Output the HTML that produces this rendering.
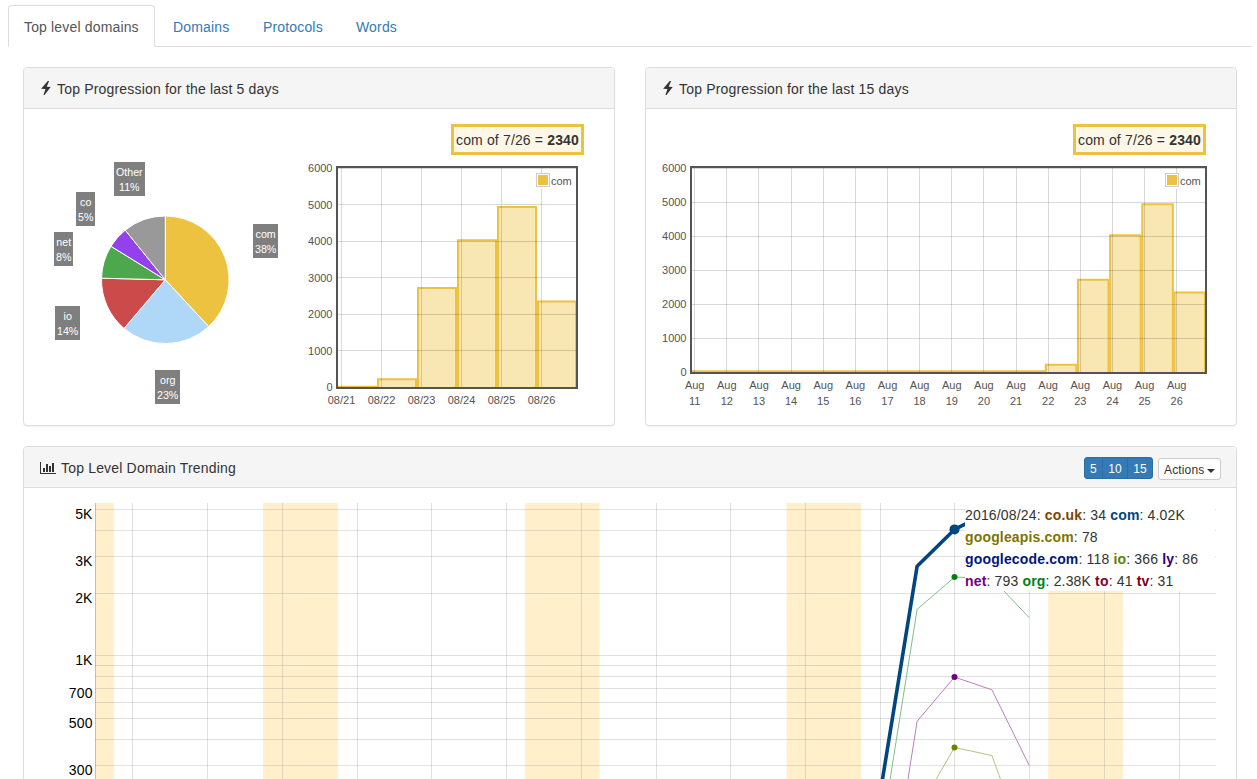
<!DOCTYPE html><html><head><meta charset="utf-8"><title>Top level domains</title><style>
*{box-sizing:border-box}
html,body{margin:0;padding:0}
body{width:1257px;height:779px;overflow:hidden;position:relative;background:#fff;
 font-family:"Liberation Sans",Arial,sans-serif;font-size:14px;line-height:1.42857143;color:#333}
.tabs{position:absolute;left:8px;top:5px;width:1244px;height:42px;margin:0;padding:0;list-style:none;border-bottom:1px solid #ddd}
.tabs li{float:left;margin-bottom:-1px;height:42px}
.tabs a{display:block;height:42px;padding:11px 0 0 15px;line-height:20px;border:1px solid transparent;border-radius:4px 4px 0 0;margin-right:2px;color:#337ab7;text-decoration:none;letter-spacing:.16px;white-space:nowrap}
.tabs li.active a{color:#555;background:#fff;border-color:#ddd #ddd transparent}
.panel{position:absolute;background:#fff;border:1px solid #ddd;border-radius:4px;box-shadow:0 1px 1px rgba(0,0,0,.05)}
.ph{height:41px;background:#f5f5f5;border-bottom:1px solid #ddd;border-radius:3px 3px 0 0;padding:10px 15px;position:relative}
.ph .t{position:absolute;top:11px;letter-spacing:.18px;line-height:20px;font-size:14px;color:#333;white-space:nowrap}
.ico{position:absolute}
.lbl{position:absolute;background:rgba(0,0,0,.5);color:#fff;font-size:8pt;line-height:15.24px;padding:3px 2px 1px;text-align:center;white-space:nowrap}
.cbox{position:absolute;border:3px solid #edc240;background:#fdf7e7;font-size:14px;line-height:20px;padding:3px 0 2px 2px;letter-spacing:.15px;white-space:nowrap;color:#333}
.btng{position:absolute;top:457px;left:1084px;height:22px;display:flex}
.btng span{display:block;height:22px;padding:2px 0 0;text-align:center;font-size:12px;line-height:18px;color:#fff;background:#337ab7;border:1px solid #2e6da4;letter-spacing:.2px}
.btng span+span{margin-left:-1px}
.btng span:first-child{border-radius:3px 0 0 3px}
.btng span:last-child{border-radius:0 3px 3px 0}
.act{position:absolute;left:1158px;top:458px;width:63px;height:22px;padding:2px 0 0 5px;letter-spacing:.15px;font-size:12px;line-height:18px;color:#333;background:#fff;border:1px solid #ccc;border-radius:3px;white-space:nowrap}
.caret{display:inline-block;width:0;height:0;margin-left:-1px;vertical-align:middle;border-top:4px solid #333;border-right:4px solid transparent;border-left:4px solid transparent}
svg{position:absolute;left:0;top:0;overflow:visible}
svg text{font-family:"Liberation Sans",Arial,sans-serif}
</style></head><body>
<ul class="tabs"><li class="active"><a style="width:147px">Top level domains</a></li><li><a style="width:88px">Domains</a></li><li><a style="width:91px">Protocols</a></li><li><a style="width:73px">Words</a></li></ul>
<div class="panel" style="left:23px;top:67px;width:592px;height:359px"><div class="ph"><span class="t" style="left:33px">Top Progression for the last 5 days</span></div></div>
<div class="panel" style="left:645px;top:67px;width:592px;height:359px"><div class="ph"><span class="t" style="left:33px">Top Progression for the last 15 days</span></div></div>
<div class="panel" style="left:23px;top:446px;width:1214px;height:400px"><div class="ph"><span class="t" style="left:37px">Top Level Domain Trending</span></div></div>
<svg class="ico" width="14" height="16" viewBox="0 0 14 16" style="left:40px;top:81px;position:absolute"><path d="M7.8 0 L9.1 0.1 L6.7 5.85 L10.7 6 L4.5 13.9 L3.4 14 L5.5 8.05 L1.1 7.8 Z" fill="#333"/></svg>
<svg class="ico" width="14" height="16" viewBox="0 0 14 16" style="left:662px;top:81px;position:absolute"><path d="M7.8 0 L9.1 0.1 L6.7 5.85 L10.7 6 L4.5 13.9 L3.4 14 L5.5 8.05 L1.1 7.8 Z" fill="#333"/></svg>
<svg width="18" height="14" style="left:39px;top:461px"><rect x="1" y="1" width="1" height="12" fill="#333"/><rect x="1" y="12" width="16" height="1" fill="#333"/><rect x="4" y="7" width="2" height="4" fill="#333"/><rect x="7" y="3" width="2" height="8" fill="#333"/><rect x="10" y="5" width="2" height="6" fill="#333"/><rect x="13" y="2" width="2" height="9" fill="#333"/></svg>
<div class="btng"><span style="width:19px">5</span><span style="width:26px">10</span><span style="width:26px">15</span></div>
<div class="act">Actions <span class="caret"></span></div>
<div class="cbox" style="left:451px;top:124px;width:133px;height:31px">com of 7/26 = <b>2340</b></div>
<div class="cbox" style="left:1073px;top:124px;width:133px;height:31px">com of 7/26 = <b>2340</b></div>
<svg width="1257" height="779"><path d="M165.30 279.80 L165.30 216.00 A63.8 63.8 0 0 1 208.68 326.58 Z" fill="#edc240" stroke="#fff" stroke-width="1" stroke-linejoin="round"/><path d="M165.30 279.80 L208.68 326.58 A63.8 63.8 0 0 1 124.02 328.44 Z" fill="#afd8f8" stroke="#fff" stroke-width="1" stroke-linejoin="round"/><path d="M165.30 279.80 L124.02 328.44 A63.8 63.8 0 0 1 101.52 278.20 Z" fill="#cb4b4b" stroke="#fff" stroke-width="1" stroke-linejoin="round"/><path d="M165.30 279.80 L101.52 278.20 A63.8 63.8 0 0 1 111.01 246.29 Z" fill="#4da74d" stroke="#fff" stroke-width="1" stroke-linejoin="round"/><path d="M165.30 279.80 L111.01 246.29 A63.8 63.8 0 0 1 125.25 230.13 Z" fill="#9440ed" stroke="#fff" stroke-width="1" stroke-linejoin="round"/><path d="M165.30 279.80 L125.25 230.13 A63.8 63.8 0 0 1 165.30 216.00 Z" fill="#999999" stroke="#fff" stroke-width="1" stroke-linejoin="round"/></svg>
<div class="lbl" style="left:253px;top:224px">com<br>38%</div>
<div class="lbl" style="left:155px;top:370px">org<br>23%</div>
<div class="lbl" style="left:55px;top:306px">io<br>14%</div>
<div class="lbl" style="left:54px;top:232px">net<br>8%</div>
<div class="lbl" style="left:76px;top:192px">co<br>5%</div>
<div class="lbl" style="left:114px;top:162px">Other<br>11%</div>
<svg width="1257" height="779"><defs><clipPath id="c338"><rect x="338" y="168" width="238" height="219"/></clipPath></defs><g clip-path="url(#c338)"><rect x="338.00" y="386.63" width="38.00" height="0.37" fill="rgba(237,194,64,0.4)"/><path d="M338.00 387 V386.63 H376.00 V387" fill="none" stroke="#edc240" stroke-width="2"/><rect x="378.00" y="379.19" width="38.00" height="7.81" fill="rgba(237,194,64,0.4)"/><path d="M378.00 387 V379.19 H416.00 V387" fill="none" stroke="#edc240" stroke-width="2"/><rect x="418.00" y="288.01" width="38.00" height="98.99" fill="rgba(237,194,64,0.4)"/><path d="M418.00 387 V288.01 H456.00 V387" fill="none" stroke="#edc240" stroke-width="2"/><rect x="458.00" y="240.27" width="38.00" height="146.73" fill="rgba(237,194,64,0.4)"/><path d="M458.00 387 V240.27 H496.00 V387" fill="none" stroke="#edc240" stroke-width="2"/><rect x="498.00" y="207.02" width="38.00" height="179.98" fill="rgba(237,194,64,0.4)"/><path d="M498.00 387 V207.02 H536.00 V387" fill="none" stroke="#edc240" stroke-width="2"/><rect x="538.00" y="301.59" width="38.00" height="85.41" fill="rgba(237,194,64,0.4)"/><path d="M538.00 387 V301.59 H576.00 V387" fill="none" stroke="#edc240" stroke-width="2"/></g><path d="M338 387.5H576M338 350.5H576M338 314.5H576M338 277.5H576M338 241.5H576M338 204.5H576M338 168.5H576M341.5 168V387M381.5 168V387M421.5 168V387M461.5 168V387M501.5 168V387M541.5 168V387" stroke="rgba(0,0,0,0.15)" stroke-width="1" fill="none"/><rect x="337" y="167" width="240" height="221" fill="none" stroke="#545454" stroke-width="2"/><text x="332.5" y="391.0" text-anchor="end" font-size="11" fill="#545454">0</text><text x="332.5" y="354.5" text-anchor="end" font-size="11" fill="#545454">1000</text><text x="332.5" y="318.0" text-anchor="end" font-size="11" fill="#545454">2000</text><text x="332.5" y="281.5" text-anchor="end" font-size="11" fill="#545454">3000</text><text x="332.5" y="245.0" text-anchor="end" font-size="11" fill="#545454">4000</text><text x="332.5" y="208.5" text-anchor="end" font-size="11" fill="#545454">5000</text><text x="332.5" y="172.0" text-anchor="end" font-size="11" fill="#545454">6000</text><text x="341.5" y="403.6" text-anchor="middle" font-size="11" fill="#545454">08/21</text><text x="381.5" y="403.6" text-anchor="middle" font-size="11" fill="#545454">08/22</text><text x="421.5" y="403.6" text-anchor="middle" font-size="11" fill="#545454">08/23</text><text x="461.5" y="403.6" text-anchor="middle" font-size="11" fill="#545454">08/24</text><text x="501.5" y="403.6" text-anchor="middle" font-size="11" fill="#545454">08/25</text><text x="541.5" y="403.6" text-anchor="middle" font-size="11" fill="#545454">08/26</text><rect x="536" y="173" width="36" height="16" fill="#fff" fill-opacity="0.85"/><rect x="536.5" y="173.5" width="13" height="13" fill="#fff" stroke="#ccc"/><rect x="538" y="175" width="10" height="10" fill="#edc240"/><text x="551" y="184.5" font-size="11" fill="#545454">com</text></svg>
<svg width="1257" height="779"><defs><clipPath id="c692"><rect x="692" y="168" width="513" height="204"/></clipPath></defs><g clip-path="url(#c692)"><rect x="692.00" y="371.15" width="30.55" height="0.85" fill="rgba(237,194,64,0.4)"/><path d="M692.00 372 V371.15 H722.55 V372" fill="none" stroke="#edc240" stroke-width="2"/><rect x="724.16" y="371.15" width="30.55" height="0.85" fill="rgba(237,194,64,0.4)"/><path d="M724.16 372 V371.15 H754.72 V372" fill="none" stroke="#edc240" stroke-width="2"/><rect x="756.33" y="371.15" width="30.55" height="0.85" fill="rgba(237,194,64,0.4)"/><path d="M756.33 372 V371.15 H786.88 V372" fill="none" stroke="#edc240" stroke-width="2"/><rect x="788.49" y="371.15" width="30.55" height="0.85" fill="rgba(237,194,64,0.4)"/><path d="M788.49 372 V371.15 H819.04 V372" fill="none" stroke="#edc240" stroke-width="2"/><rect x="820.65" y="371.15" width="30.55" height="0.85" fill="rgba(237,194,64,0.4)"/><path d="M820.65 372 V371.15 H851.21 V372" fill="none" stroke="#edc240" stroke-width="2"/><rect x="852.82" y="371.15" width="30.55" height="0.85" fill="rgba(237,194,64,0.4)"/><path d="M852.82 372 V371.15 H883.37 V372" fill="none" stroke="#edc240" stroke-width="2"/><rect x="884.98" y="371.15" width="30.55" height="0.85" fill="rgba(237,194,64,0.4)"/><path d="M884.98 372 V371.15 H915.53 V372" fill="none" stroke="#edc240" stroke-width="2"/><rect x="917.14" y="371.15" width="30.55" height="0.85" fill="rgba(237,194,64,0.4)"/><path d="M917.14 372 V371.15 H947.70 V372" fill="none" stroke="#edc240" stroke-width="2"/><rect x="949.30" y="371.15" width="30.55" height="0.85" fill="rgba(237,194,64,0.4)"/><path d="M949.30 372 V371.15 H979.86 V372" fill="none" stroke="#edc240" stroke-width="2"/><rect x="981.47" y="371.15" width="30.55" height="0.85" fill="rgba(237,194,64,0.4)"/><path d="M981.47 372 V371.15 H1012.02 V372" fill="none" stroke="#edc240" stroke-width="2"/><rect x="1013.63" y="371.15" width="30.55" height="0.85" fill="rgba(237,194,64,0.4)"/><path d="M1013.63 372 V371.15 H1044.18 V372" fill="none" stroke="#edc240" stroke-width="2"/><rect x="1045.79" y="364.72" width="30.55" height="7.28" fill="rgba(237,194,64,0.4)"/><path d="M1045.79 372 V364.72 H1076.35 V372" fill="none" stroke="#edc240" stroke-width="2"/><rect x="1077.96" y="279.79" width="30.55" height="92.21" fill="rgba(237,194,64,0.4)"/><path d="M1077.96 372 V279.79 H1108.51 V372" fill="none" stroke="#edc240" stroke-width="2"/><rect x="1110.12" y="235.32" width="30.55" height="136.68" fill="rgba(237,194,64,0.4)"/><path d="M1110.12 372 V235.32 H1140.67 V372" fill="none" stroke="#edc240" stroke-width="2"/><rect x="1142.28" y="204.35" width="30.55" height="167.65" fill="rgba(237,194,64,0.4)"/><path d="M1142.28 372 V204.35 H1172.84 V372" fill="none" stroke="#edc240" stroke-width="2"/><rect x="1174.45" y="292.44" width="30.55" height="79.56" fill="rgba(237,194,64,0.4)"/><path d="M1174.45 372 V292.44 H1205.00 V372" fill="none" stroke="#edc240" stroke-width="2"/></g><path d="M692 372.5H1205M692 338.5H1205M692 304.5H1205M692 270.5H1205M692 236.5H1205M692 202.5H1205M692 168.5H1205M694.5 168V372M726.5 168V372M758.5 168V372M791.5 168V372M823.5 168V372M855.5 168V372M887.5 168V372M919.5 168V372M951.5 168V372M983.5 168V372M1016.5 168V372M1048.5 168V372M1080.5 168V372M1112.5 168V372M1144.5 168V372M1176.5 168V372" stroke="rgba(0,0,0,0.15)" stroke-width="1" fill="none"/><rect x="691" y="167" width="515" height="206" fill="none" stroke="#545454" stroke-width="2"/><text x="686.5" y="376.0" text-anchor="end" font-size="11" fill="#545454">0</text><text x="686.5" y="342.0" text-anchor="end" font-size="11" fill="#545454">1000</text><text x="686.5" y="308.0" text-anchor="end" font-size="11" fill="#545454">2000</text><text x="686.5" y="274.0" text-anchor="end" font-size="11" fill="#545454">3000</text><text x="686.5" y="240.0" text-anchor="end" font-size="11" fill="#545454">4000</text><text x="686.5" y="206.0" text-anchor="end" font-size="11" fill="#545454">5000</text><text x="686.5" y="172.0" text-anchor="end" font-size="11" fill="#545454">6000</text><text x="694.7" y="389" text-anchor="middle" font-size="11" fill="#545454">Aug</text><text x="694.7" y="404.5" text-anchor="middle" font-size="11" fill="#545454">11</text><text x="726.8330000000001" y="389" text-anchor="middle" font-size="11" fill="#545454">Aug</text><text x="726.8330000000001" y="404.5" text-anchor="middle" font-size="11" fill="#545454">12</text><text x="758.966" y="389" text-anchor="middle" font-size="11" fill="#545454">Aug</text><text x="758.966" y="404.5" text-anchor="middle" font-size="11" fill="#545454">13</text><text x="791.099" y="389" text-anchor="middle" font-size="11" fill="#545454">Aug</text><text x="791.099" y="404.5" text-anchor="middle" font-size="11" fill="#545454">14</text><text x="823.2320000000001" y="389" text-anchor="middle" font-size="11" fill="#545454">Aug</text><text x="823.2320000000001" y="404.5" text-anchor="middle" font-size="11" fill="#545454">15</text><text x="855.365" y="389" text-anchor="middle" font-size="11" fill="#545454">Aug</text><text x="855.365" y="404.5" text-anchor="middle" font-size="11" fill="#545454">16</text><text x="887.498" y="389" text-anchor="middle" font-size="11" fill="#545454">Aug</text><text x="887.498" y="404.5" text-anchor="middle" font-size="11" fill="#545454">17</text><text x="919.6310000000001" y="389" text-anchor="middle" font-size="11" fill="#545454">Aug</text><text x="919.6310000000001" y="404.5" text-anchor="middle" font-size="11" fill="#545454">18</text><text x="951.7640000000001" y="389" text-anchor="middle" font-size="11" fill="#545454">Aug</text><text x="951.7640000000001" y="404.5" text-anchor="middle" font-size="11" fill="#545454">19</text><text x="983.897" y="389" text-anchor="middle" font-size="11" fill="#545454">Aug</text><text x="983.897" y="404.5" text-anchor="middle" font-size="11" fill="#545454">20</text><text x="1016.0300000000001" y="389" text-anchor="middle" font-size="11" fill="#545454">Aug</text><text x="1016.0300000000001" y="404.5" text-anchor="middle" font-size="11" fill="#545454">21</text><text x="1048.163" y="389" text-anchor="middle" font-size="11" fill="#545454">Aug</text><text x="1048.163" y="404.5" text-anchor="middle" font-size="11" fill="#545454">22</text><text x="1080.296" y="389" text-anchor="middle" font-size="11" fill="#545454">Aug</text><text x="1080.296" y="404.5" text-anchor="middle" font-size="11" fill="#545454">23</text><text x="1112.429" y="389" text-anchor="middle" font-size="11" fill="#545454">Aug</text><text x="1112.429" y="404.5" text-anchor="middle" font-size="11" fill="#545454">24</text><text x="1144.5620000000001" y="389" text-anchor="middle" font-size="11" fill="#545454">Aug</text><text x="1144.5620000000001" y="404.5" text-anchor="middle" font-size="11" fill="#545454">25</text><text x="1176.6950000000002" y="389" text-anchor="middle" font-size="11" fill="#545454">Aug</text><text x="1176.6950000000002" y="404.5" text-anchor="middle" font-size="11" fill="#545454">26</text><rect x="1165" y="173" width="36" height="16" fill="#fff" fill-opacity="0.85"/><rect x="1165.5" y="173.5" width="13" height="13" fill="#fff" stroke="#ccc"/><rect x="1167" y="175" width="10" height="10" fill="#edc240"/><text x="1180" y="184.5" font-size="11" fill="#545454">com</text></svg>
<svg width="1257" height="779"><defs><clipPath id="tc"><rect x="95" y="503" width="1121" height="300"/></clipPath></defs><g clip-path="url(#tc)"><rect x="95" y="503" width="18.8" height="300" fill="rgb(255,240,203)"/><rect x="263.10" y="503" width="74.7" height="300" fill="rgb(255,240,203)"/><rect x="524.80" y="503" width="74.7" height="300" fill="rgb(255,240,203)"/><rect x="786.50" y="503" width="74.7" height="300" fill="rgb(255,240,203)"/><rect x="1048.20" y="503" width="74.7" height="300" fill="rgb(255,240,203)"/><path d="M95 509.5H1216M95 530.5H1216M95 556.5H1216M95 593.5H1216M95 655.5H1216M95 665.5H1216M95 676.5H1216M95 688.5H1216M95 702.5H1216M95 718.5H1216M95 739.5H1216M95 765.5H1216M132.5 503V803M207.5 503V803M282.5 503V803M357.5 503V803M431.5 503V803M506.5 503V803M581.5 503V803M656.5 503V803M730.5 503V803M805.5 503V803M880.5 503V803M954.5 503V803M1029.5 503V803M1104.5 503V803M1179.5 503V803" stroke="rgba(128,128,128,0.24)" stroke-width="1" fill="none"/><path d="M95.5 503V803" stroke="rgba(0,0,0,0.2)" stroke-width="1"/></g><g clip-path="url(#tc)"><polyline points="879.72,1011.93 917.11,812.02 954.50,747.45 991.89,755.50 1029.28,858.50" fill="none" stroke="rgb(186,192,128)" stroke-width="1" stroke-linejoin="round"/><polyline points="879.72,958.45 917.11,721.28 954.50,677.10 991.89,689.76 1029.28,765.54" fill="none" stroke="rgb(186,128,192)" stroke-width="1" stroke-linejoin="round"/><polyline points="879.72,844.47 917.11,609.34 954.50,577.11 991.89,578.26 1029.28,617.78" fill="none" stroke="rgb(128,192,139)" stroke-width="1" stroke-linejoin="round"/><polyline points="842.33,975.04 879.72,796.28 917.11,566.20 954.50,529.41 991.89,510.83 1029.28,578.65" fill="none" stroke="rgb(0,70,128)" stroke-width="3.6" stroke-linejoin="round"/><circle cx="954.50" cy="529.41" r="5" fill="rgb(0,70,128)"/><circle cx="954.50" cy="577.11" r="3" fill="rgb(0,128,23)"/><circle cx="954.50" cy="677.10" r="3" fill="rgb(116,0,128)"/><circle cx="954.50" cy="747.45" r="3" fill="rgb(116,128,0)"/></g><text x="92.6" y="519.2" text-anchor="end" font-size="14" fill="#000" letter-spacing="0.15">5K</text><text x="92.6" y="566.2" text-anchor="end" font-size="14" fill="#000" letter-spacing="0.15">3K</text><text x="92.6" y="603.2" text-anchor="end" font-size="14" fill="#000" letter-spacing="0.15">2K</text><text x="92.6" y="665.2" text-anchor="end" font-size="14" fill="#000" letter-spacing="0.15">1K</text><text x="92.6" y="698.2" text-anchor="end" font-size="14" fill="#000" letter-spacing="0.15">700</text><text x="92.6" y="728.2" text-anchor="end" font-size="14" fill="#000" letter-spacing="0.15">500</text><text x="92.6" y="775.2" text-anchor="end" font-size="14" fill="#000" letter-spacing="0.15">300</text></svg>
<div style="position:absolute;left:965px;top:503px;width:250px;height:88px;background:#fff;font-size:14px;line-height:22px;padding-top:1px;letter-spacing:.16px;color:#333">2016/08/24: <span><b style="color:rgb(128,70,0)">co.uk</b>:&nbsp;34</span> <span><b style="color:rgb(0,70,128)">com</b>:&nbsp;4.02K</span> <span><b style="color:rgb(128,116,0)">googleapis.com</b>:&nbsp;78</span> <span><b style="color:rgb(0,23,128)">googlecode.com</b>:&nbsp;118</span> <span><b style="color:rgb(93,128,0)">io</b>:&nbsp;366</span> <span><b style="color:rgb(46,0,128)">ly</b>:&nbsp;86</span> <span><b style="color:rgb(116,0,128)">net</b>:&nbsp;793</span> <span><b style="color:rgb(0,128,23)">org</b>:&nbsp;2.38K</span> <span><b style="color:rgb(128,0,46)">to</b>:&nbsp;41</span> <span><b style="color:rgb(128,0,23)">tv</b>:&nbsp;31</span></div>
</body></html>
